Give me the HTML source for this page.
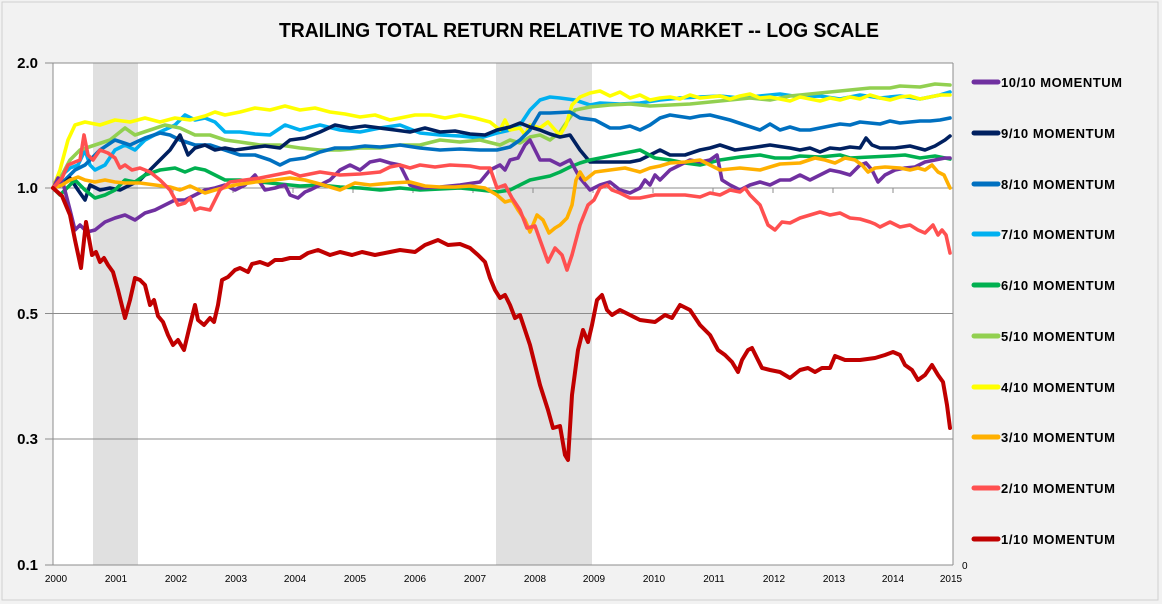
<!DOCTYPE html>
<html><head><meta charset="utf-8"><style>
body{margin:0;background:#f2f2f2;}
svg{display:block;font-family:"Liberation Sans",Arial,sans-serif;}
</style></head><body>
<svg width="1162" height="604" viewBox="0 0 1162 604" xmlns="http://www.w3.org/2000/svg">
<rect x="0" y="0" width="1162" height="604" fill="#f2f2f2"/>
<rect x="2" y="2" width="1156" height="598" fill="none" stroke="#d0d0d0"/>
<text x="279" y="37" font-size="20" font-weight="bold" fill="#000" textLength="600" lengthAdjust="spacingAndGlyphs">TRAILING TOTAL RETURN RELATIVE TO MARKET -- LOG SCALE</text>
<rect x="53" y="63" width="900" height="502" fill="#fff"/>
<rect x="93" y="63" width="45" height="502" fill="#e0e0e0"/>
<rect x="496" y="63" width="96" height="502" fill="#e0e0e0"/>
<g stroke="#8c8c8c" stroke-width="1">
<line x1="45" y1="63" x2="953" y2="63"/>
<line x1="45" y1="188" x2="953" y2="188"/>
<line x1="45" y1="313.5" x2="953" y2="313.5"/>
<line x1="45" y1="439" x2="953" y2="439"/>
<line x1="45" y1="565" x2="953" y2="565"/>
<line x1="53" y1="63" x2="53" y2="565"/>
<line x1="953" y1="63" x2="953" y2="565"/>
<line x1="113" y1="188" x2="113" y2="193"/><line x1="173" y1="188" x2="173" y2="193"/><line x1="233" y1="188" x2="233" y2="193"/><line x1="293" y1="188" x2="293" y2="193"/><line x1="353" y1="188" x2="353" y2="193"/><line x1="413" y1="188" x2="413" y2="193"/><line x1="473" y1="188" x2="473" y2="193"/><line x1="533" y1="188" x2="533" y2="193"/><line x1="593" y1="188" x2="593" y2="193"/><line x1="653" y1="188" x2="653" y2="193"/><line x1="713" y1="188" x2="713" y2="193"/><line x1="773" y1="188" x2="773" y2="193"/><line x1="833" y1="188" x2="833" y2="193"/><line x1="893" y1="188" x2="893" y2="193"/>
</g>
<g font-size="15" font-weight="bold" text-anchor="end" fill="#000">
<text x="38" y="68">2.0</text><text x="38" y="193">1.0</text><text x="38" y="319">0.5</text><text x="38" y="444">0.3</text><text x="38" y="570">0.1</text>
</g>
<text x="962" y="569" font-size="10" fill="#000">0</text>
<g font-size="10" text-anchor="middle" fill="#000">
<text x="56" y="582">2000</text><text x="116" y="582">2001</text><text x="176" y="582">2002</text><text x="236" y="582">2003</text><text x="295" y="582">2004</text><text x="355" y="582">2005</text><text x="415" y="582">2006</text><text x="475" y="582">2007</text><text x="535" y="582">2008</text><text x="594" y="582">2009</text><text x="654" y="582">2010</text><text x="714" y="582">2011</text><text x="774" y="582">2012</text><text x="834" y="582">2013</text><text x="893" y="582">2014</text><text x="951" y="582">2015</text>
</g>
<g fill="none" stroke-width="3.6" stroke-linejoin="round" stroke-linecap="round">
<polyline stroke="#00b0f0" points="53,188 62,175 70,168 78,165 85,150 90,165 95,170 105,165 115,150 125,145 135,150 145,140 160,132 175,125 185,115 195,120 205,118 215,122 225,132 240,132 255,134 270,135 285,125 300,130 320,125 340,130 360,132 380,128 400,125 420,133 440,135 460,136 480,138 497,133 510,130 520,125 530,110 540,100 550,97 560,98 575,100 590,105 600,103 620,104 640,103 660,100 680,98 700,97 720,96 740,98 760,96 780,94 800,97 820,96 840,99 860,95 880,98 900,96 920,99 940,95 950,92"/>
<polyline stroke="#92d050" points="53,188 62,175 70,160 80,150 95,145 110,140 125,128 135,135 150,130 165,125 180,128 195,135 210,135 225,140 240,142 260,145 280,145 300,148 320,150 340,150 360,148 380,148 400,145 420,145 440,140 460,142 480,140 500,145 510,140 520,143 530,137 540,135 550,140 560,132 575,110 590,107 610,105 630,104 650,106 670,105 690,104 710,102 730,100 750,98 770,100 790,96 810,94 830,92 850,90 870,88 890,88 900,86 920,87 935,84 950,85"/>
<polyline stroke="#ffff00" points="53,188 60,170 68,140 75,125 85,122 100,125 115,120 130,122 145,118 160,122 175,118 190,120 205,116 215,112 225,115 240,112 255,108 270,110 285,106 300,110 315,108 330,112 345,114 360,117 375,115 390,120 400,118 415,115 430,115 445,118 460,115 475,118 490,122 500,130 505,120 510,130 520,128 525,135 530,125 540,128 548,122 555,130 560,135 566,125 572,105 580,97 590,93 600,91 610,96 620,92 630,98 640,95 650,100 660,98 670,97 680,99 690,95 700,98 710,97 720,96 730,99 740,96 750,94 760,98 770,97 780,99 790,101 800,97 810,99 820,101 830,98 840,100 850,97 860,99 870,95 880,98 890,100 900,97 910,96 920,99 930,97 940,95 950,95"/>
<polyline stroke="#0070c0" points="53,188 65,180 75,170 85,165 100,150 115,140 130,145 145,138 160,133 170,135 180,140 195,145 210,145 225,150 240,155 255,155 270,160 280,165 290,160 305,158 320,152 335,148 350,148 365,146 380,147 400,145 420,148 440,150 460,149 480,150 497,150 510,147 520,140 530,130 540,113 550,113 570,112 580,118 595,120 610,128 620,128 630,126 640,130 650,125 660,118 670,115 690,118 700,116 710,115 730,120 745,125 760,130 770,124 780,130 790,127 800,130 810,130 820,128 830,126 840,124 850,125 860,122 870,123 880,124 890,121 900,123 910,122 920,121 930,121 940,120 950,118"/>
<polyline stroke="#002060" points="53,188 62,185 70,178 78,190 85,200 90,185 100,190 110,188 120,190 130,185 140,180 150,170 160,160 170,150 180,135 188,155 195,148 205,145 215,150 225,148 235,150 250,148 265,146 280,148 290,140 305,138 320,132 335,125 350,128 365,126 380,128 395,130 410,132 425,128 440,132 455,131 470,134 485,135 497,130 510,127 520,123 530,127 540,130 550,134 560,137 570,135 580,150 590,162 600,162 615,162 630,162 640,160 650,155 660,150 670,155 685,155 700,150 710,148 720,145 735,150 750,148 770,145 790,148 800,150 810,148 820,152 830,148 840,149 850,147 860,148 866,138 872,145 880,148 895,148 910,146 925,150 935,146 945,140 950,136"/>
<polyline stroke="#00b050" points="53,188 60,195 70,185 75,180 85,190 95,198 105,195 115,190 125,180 135,182 145,175 160,170 175,168 185,172 195,168 205,170 215,175 225,180 240,180 260,182 280,184 300,186 320,185 340,187 360,188 380,190 400,188 420,190 440,189 460,188 480,190 497,192 510,190 520,185 530,180 540,178 550,176 560,172 570,167 580,163 590,160 600,158 615,155 630,152 640,150 655,158 670,160 685,163 700,165 720,160 740,157 760,155 775,158 790,158 800,156 820,157 840,155 850,158 870,157 890,156 905,155 920,158 935,156 950,159"/>
<polyline stroke="#7030a0" points="53,188 58,178 63,183 70,210 75,230 80,225 87,232 95,230 105,222 115,218 125,215 135,220 145,213 155,210 165,205 175,200 185,200 195,195 205,190 215,188 225,185 235,190 245,185 255,175 265,190 275,188 285,185 290,195 298,198 305,192 310,190 320,185 330,180 340,170 350,165 360,170 370,162 380,160 390,163 400,165 410,185 420,188 440,187 460,185 480,182 490,170 500,165 505,170 510,160 518,158 525,145 530,140 535,150 540,160 550,160 560,165 570,160 580,178 590,190 600,185 610,182 620,190 630,193 640,188 645,180 650,185 655,175 660,180 670,170 680,165 690,160 700,162 710,160 717,155 722,180 730,185 740,190 750,185 760,182 770,185 780,180 790,180 800,175 810,180 820,175 830,170 840,172 850,175 860,165 866,163 872,170 878,182 885,175 895,170 905,168 915,167 925,162 935,160 945,158 950,158"/>
<polyline stroke="#ffb000" points="53,188 62,185 70,180 78,177 85,180 95,182 105,180 115,182 125,183 140,183 155,185 170,187 180,190 190,186 205,193 215,190 235,185 255,182 275,180 290,178 305,180 320,184 340,190 355,183 370,185 390,183 410,182 425,186 440,187 455,187 470,186 485,188 497,195 505,202 512,200 518,210 525,220 530,232 537,215 543,220 549,233 555,228 560,225 567,218 572,205 576,180 580,172 585,180 595,172 610,170 625,168 640,172 650,168 660,166 670,163 685,162 700,160 720,170 740,168 760,170 780,164 800,163 815,158 825,160 835,163 845,158 855,160 862,165 868,172 875,168 885,167 900,168 910,170 918,168 925,170 932,165 938,172 944,175 950,188"/>
<polyline stroke="#ff5050" points="53,188 62,178 68,165 75,162 80,160 84,135 88,155 93,160 100,150 108,153 115,158 120,168 125,165 132,170 140,168 150,172 160,180 170,190 178,205 185,203 190,198 195,210 200,208 210,210 215,200 220,190 230,182 245,180 260,178 275,175 290,172 300,176 320,172 340,175 360,174 380,172 390,167 400,165 410,168 420,165 435,167 450,165 470,166 480,168 490,168 497,188 505,185 512,198 520,210 527,228 535,226 540,240 548,262 555,248 562,255 567,270 572,255 580,225 588,205 594,200 600,188 607,185 612,190 620,193 630,198 640,198 655,195 670,195 685,195 700,197 710,193 720,195 730,190 740,192 745,188 750,195 760,205 768,225 775,230 782,222 790,223 800,218 810,215 820,212 830,215 840,213 850,218 860,219 870,222 875,224 880,227 890,222 900,227 910,225 918,230 925,233 933,225 938,235 942,230 946,235 950,253"/>
<polyline stroke="#c00000" stroke-width="4" points="53,188 62,196 70,215 75,240 81,268 86,222 92,255 96,252 100,262 104,258 108,265 113,272 118,290 125,318 130,300 135,278 140,280 145,285 150,305 154,300 158,316 163,322 168,335 173,345 178,340 184,350 190,325 195,305 198,320 204,325 210,318 214,322 218,305 222,280 228,277 235,270 240,268 248,272 252,264 260,262 268,265 275,260 282,260 290,258 300,258 308,253 318,250 330,255 340,252 352,255 362,252 375,255 390,252 400,250 415,252 425,245 438,240 448,245 460,244 470,248 478,255 485,262 490,278 495,290 500,298 505,295 510,305 515,318 520,315 525,330 530,345 535,365 540,385 548,410 553,428 560,426 565,455 568,460 572,395 578,350 583,330 588,342 592,325 597,300 602,295 607,310 612,315 620,310 630,315 640,320 655,322 665,315 672,318 680,305 690,310 700,325 710,335 718,350 725,355 732,362 738,372 742,360 748,350 752,348 757,358 762,368 770,370 780,372 790,378 800,370 808,368 815,372 822,368 830,368 835,356 845,360 860,360 875,358 885,355 893,352 900,355 905,365 912,370 918,380 925,375 932,365 938,375 943,382 947,405 950,428"/>
</g>
<g stroke-width="5" stroke-linecap="round">
<line x1="974" y1="82" x2="998" y2="82" stroke="#7030a0"/>
<line x1="974" y1="133" x2="998" y2="133" stroke="#002060"/>
<line x1="974" y1="184" x2="998" y2="184" stroke="#0070c0"/>
<line x1="974" y1="234" x2="998" y2="234" stroke="#00b0f0"/>
<line x1="974" y1="285" x2="998" y2="285" stroke="#00b050"/>
<line x1="974" y1="336" x2="998" y2="336" stroke="#92d050"/>
<line x1="974" y1="387" x2="998" y2="387" stroke="#ffff00"/>
<line x1="974" y1="437" x2="998" y2="437" stroke="#ffb000"/>
<line x1="974" y1="488" x2="998" y2="488" stroke="#ff5050"/>
<line x1="974" y1="539" x2="998" y2="539" stroke="#c00000"/>
</g>
<g font-size="13" font-weight="bold" fill="#000" lengthAdjust="spacingAndGlyphs">
<text x="1001" y="87" textLength="121">10/10 MOMENTUM</text>
<text x="1001" y="138" textLength="114">9/10 MOMENTUM</text>
<text x="1001" y="189" textLength="114">8/10 MOMENTUM</text>
<text x="1001" y="239" textLength="114">7/10 MOMENTUM</text>
<text x="1001" y="290" textLength="114">6/10 MOMENTUM</text>
<text x="1001" y="341" textLength="114">5/10 MOMENTUM</text>
<text x="1001" y="392" textLength="114">4/10 MOMENTUM</text>
<text x="1001" y="442" textLength="114">3/10 MOMENTUM</text>
<text x="1001" y="493" textLength="114">2/10 MOMENTUM</text>
<text x="1001" y="544" textLength="114">1/10 MOMENTUM</text>
</g>
</svg>
</body></html>
